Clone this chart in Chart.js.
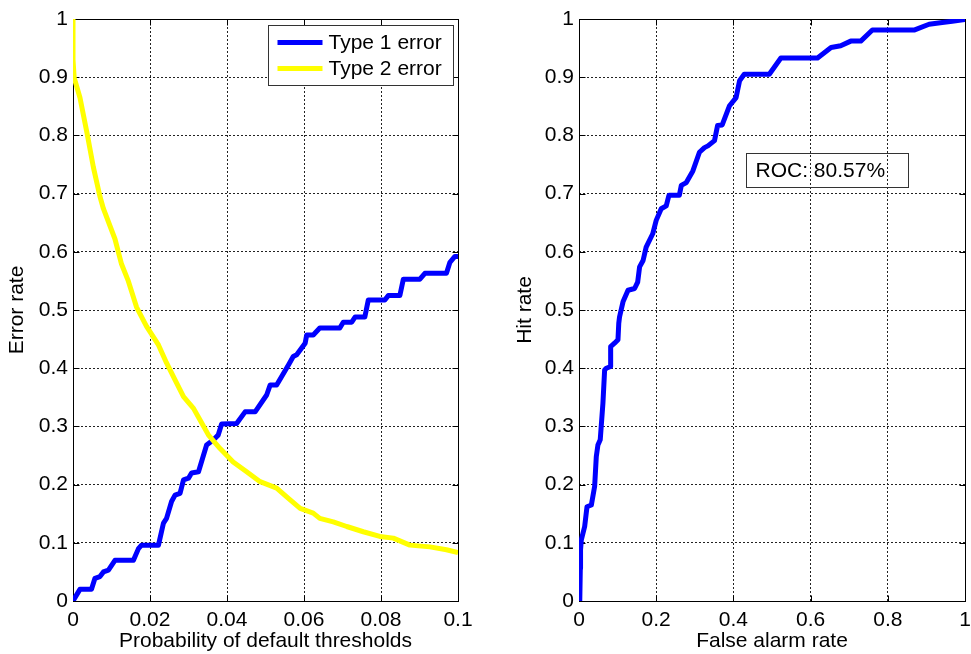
<!DOCTYPE html>
<html>
<head>
<meta charset="utf-8">
<script src="https://cdn.jsdelivr.net/npm/chart.js@4/dist/chart.umd.min.js"></script>
<style>
  html, body { margin: 0; padding: 0; background: #fff; }
  #wrap { position: relative; width: 971px; height: 654px; overflow: hidden; }
  #left { position: absolute; left: 0; top: 0; }
  #right { position: absolute; left: 480px; top: 0; }
</style>
</head>
<body>
<div id="wrap">
  <canvas id="left" width="480" height="654"></canvas>
  <canvas id="right" width="491" height="654"></canvas>
</div>
<script>
// --- data ---
const thresholdTicks = [0, 0.02, 0.04, 0.06, 0.08, 0.1];
const thresholdLabels = ['0', '0.02', '0.04', '0.06', '0.08', '0.1'];
const rateTicks = [0, 0.1, 0.2, 0.3, 0.4, 0.5, 0.6, 0.7, 0.8, 0.9, 1];
const rateLabels = ['0', '0.1', '0.2', '0.3', '0.4', '0.5', '0.6', '0.7', '0.8', '0.9', '1'];
const falseAlarmTicks = [0, 0.2, 0.4, 0.6, 0.8, 1];
const falseAlarmLabels = ['0', '0.2', '0.4', '0.6', '0.8', '1'];

const seriesNames = ['Type 1 error', 'Type 2 error'];

const type1X = [0, 0.0018, 0.0048, 0.0057, 0.007, 0.0079, 0.0092, 0.0109, 0.0157, 0.017, 0.0178, 0.0222,
  0.0235, 0.0243, 0.0256, 0.0265, 0.0278, 0.0287, 0.03, 0.0308, 0.0326, 0.0347, 0.0365, 0.0377, 0.0386,
  0.0425, 0.0447, 0.0473, 0.0503, 0.0512, 0.0529, 0.056, 0.0572, 0.0581, 0.0603, 0.0607, 0.0624, 0.0641,
  0.0693, 0.0702, 0.0724, 0.0733, 0.0758, 0.0767, 0.081, 0.0819, 0.0849, 0.0858, 0.0901, 0.0914, 0.097,
  0.0979, 0.0992, 0.1];
const type1Y = [0, 0.02, 0.02, 0.039, 0.042, 0.05, 0.053, 0.07, 0.07, 0.09, 0.096, 0.096,
  0.134, 0.142, 0.171, 0.182, 0.185, 0.208, 0.211, 0.22, 0.222, 0.268, 0.277, 0.285, 0.304,
  0.305, 0.325, 0.325, 0.354, 0.371, 0.371, 0.406, 0.42, 0.423, 0.443, 0.457, 0.457, 0.469,
  0.469, 0.479, 0.479, 0.488, 0.488, 0.517, 0.517, 0.525, 0.525, 0.553, 0.553, 0.563, 0.563,
  0.582, 0.592, 0.592];

const type2X = [0, 0, 0.0003, 0.0018, 0.0037, 0.0053, 0.007, 0.0079, 0.0109, 0.0126, 0.0143, 0.0165,
  0.0191, 0.0222, 0.0243, 0.0265, 0.0287, 0.0313, 0.033, 0.0352, 0.0382, 0.0416, 0.0451, 0.0486,
  0.0529, 0.0555, 0.059, 0.0624, 0.0641, 0.0676, 0.0711, 0.0754, 0.0797, 0.0832, 0.0875, 0.0927,
  0.097, 0.1];
const type2Y = [1, 0.93, 0.899, 0.865, 0.802, 0.745, 0.695, 0.674, 0.622, 0.579, 0.551, 0.505,
  0.472, 0.44, 0.409, 0.38, 0.351, 0.331, 0.311, 0.285, 0.262, 0.239, 0.222, 0.205,
  0.194, 0.179, 0.159, 0.151, 0.142, 0.136, 0.128, 0.119, 0.111, 0.108, 0.096, 0.093,
  0.088, 0.083];

const rocFalseAlarm = [0.002, 0.0034, 0.004, 0.006, 0.0147, 0.0207, 0.032, 0.0405, 0.0448, 0.049,
  0.055, 0.062, 0.0664, 0.0707, 0.082, 0.082, 0.092, 0.101, 0.103, 0.105, 0.114, 0.127, 0.144,
  0.152, 0.157, 0.166, 0.174, 0.191, 0.2, 0.213, 0.226, 0.233, 0.26, 0.265, 0.278, 0.295, 0.312,
  0.325, 0.334, 0.351, 0.359, 0.371, 0.39, 0.407, 0.416, 0.428, 0.493, 0.523, 0.618, 0.653,
  0.678, 0.704, 0.73, 0.76, 0.868, 0.907, 0.941, 0.967, 1.0];
const rocHit = [0, 0.056, 0.088, 0.105, 0.128, 0.162, 0.165, 0.197, 0.248, 0.268,
  0.277, 0.34, 0.397, 0.4, 0.403, 0.437, 0.443, 0.449, 0.477, 0.488, 0.514, 0.534, 0.537,
  0.548, 0.574, 0.585, 0.608, 0.631, 0.654, 0.674, 0.679, 0.697, 0.697, 0.714, 0.719, 0.739, 0.771,
  0.779, 0.782, 0.791, 0.817, 0.818, 0.851, 0.865, 0.894, 0.905, 0.905, 0.933, 0.933, 0.951,
  0.954, 0.962, 0.962, 0.981, 0.981, 0.991, 0.994, 0.996, 0.999];
const rocLabel = 'ROC: 80.57%';

const FONT = '"Liberation Sans", Arial, sans-serif';
Chart.defaults.font.family = FONT;
Chart.defaults.font.size = 21;
Chart.defaults.color = '#000';

const zip = (xs, ys) => xs.map((x, i) => ({ x, y: ys[i] }));

// box round the plot plus small inward ticks, like matlab
const framePlugin = {
  id: 'frame',
  beforeDatasetsDraw(chart) {
    const { ctx, chartArea: a, scales } = chart;
    const l = Math.round(a.left) + 0.5, r = Math.round(a.right) + 0.5;
    const t = Math.round(a.top) + 0.5, b = Math.round(a.bottom) + 0.5;
    ctx.save();
    ctx.strokeStyle = '#000';
    ctx.lineWidth = 1;
    ctx.strokeRect(l, t, r - l, b - t);
    ctx.beginPath();
    scales.x.ticks.forEach(tk => {
      const px = Math.round(scales.x.getPixelForValue(tk.value)) + 0.5;
      ctx.moveTo(px, b); ctx.lineTo(px, b - 6);
      ctx.moveTo(px, t); ctx.lineTo(px, t + 6);
    });
    scales.y.ticks.forEach(tk => {
      const py = Math.round(scales.y.getPixelForValue(tk.value)) + 0.5;
      ctx.moveTo(l, py); ctx.lineTo(l + 6, py);
      ctx.moveTo(r, py); ctx.lineTo(r - 6, py);
    });
    ctx.stroke();
    ctx.restore();
  }
};

const legendBox = {
  id: 'legendBox',
  afterDatasetsDraw(chart) {
    const ctx = chart.ctx;
    const a = chart.chartArea;
    const x = Math.round(a.right - 190) + 0.5, y = Math.round(a.top + 6) + 0.5, w = 185, h = 60;
    ctx.save();
    ctx.fillStyle = '#fff';
    ctx.strokeStyle = '#333';
    ctx.lineWidth = 1;
    ctx.fillRect(x, y, w, h);
    ctx.strokeRect(x, y, w, h);
    ctx.font = '21px ' + FONT;
    ctx.textBaseline = 'middle';
    ctx.fillStyle = '#000';
    seriesNames.forEach((name, i) => {
      const ds = chart.data.datasets.find(d => d.label === name);
      const ly = y + 17 + i * 26;
      ctx.strokeStyle = ds.borderColor;
      ctx.lineWidth = 5;
      ctx.beginPath();
      ctx.moveTo(x + 9, ly);
      ctx.lineTo(x + 54, ly);
      ctx.stroke();
      ctx.fillText(name, x + 60, ly + 1);
    });
    ctx.restore();
  }
};

const rocBox = {
  id: 'rocBox',
  afterDatasetsDraw(chart) {
    const ctx = chart.ctx;
    const a = chart.chartArea;
    const x = Math.round(a.left + 167) + 0.5, y = Math.round(a.top + 134) + 0.5;
    ctx.save();
    ctx.strokeStyle = '#333';
    ctx.lineWidth = 1;
    ctx.strokeRect(x, y, 162, 34);
    ctx.font = '21px ' + FONT;
    ctx.textBaseline = 'middle';
    ctx.fillStyle = '#000';
    ctx.fillText(rocLabel, x + 9, y + 18);
    ctx.restore();
  }
};

// fixed axis sizes; labels may hang over the plot edges without shrinking it
function fixSize(prop, size) {
  return s => {
    s[prop] = size;
    s.paddingLeft = s.paddingRight = s.paddingTop = s.paddingBottom = 0;
  };
}

function axis(vals, labels, min, max, extra, pad) {
  return Object.assign({
    type: 'linear',
    min, max,
    afterBuildTicks: s => { s.ticks = vals.map(v => ({ value: v })); },
    ticks: { autoSkip: false, maxRotation: 0, padding: pad, callback: (v, i) => labels[i] },
    grid: { color: '#222', lineWidth: 1, drawTicks: false },
    border: { display: false, dash: [2, 2] }
  }, extra);
}

function lineDs(label, xs, ys, color, order) {
  return {
    label, data: zip(xs, ys),
    borderColor: color, backgroundColor: color,
    borderWidth: 5, pointRadius: 0, tension: 0,
    borderJoinStyle: 'round', borderCapStyle: 'butt',
    fill: false, order
  };
}

const common = {
  responsive: false,
  animation: false,
  events: [],
  plugins: { legend: { display: false }, tooltip: { enabled: false } }
};

new Chart(document.getElementById('left'), {
  type: 'line',
  data: {
    datasets: [
      lineDs(seriesNames[0], type1X, type1Y, '#0000ff', 1),
      lineDs(seriesNames[1], type2X, type2Y, '#ffff00', 0)
    ]
  },
  options: Object.assign({}, common, {
    layout: { padding: { top: 19, right: 22, bottom: 0, left: 0 } },
    scales: {
      x: axis(thresholdTicks, thresholdLabels, 0, 0.1, {
        title: { display: true, text: 'Probability of default thresholds', padding: { top: 0, bottom: 0 } },
        afterFit: fixSize('height', 53)
      }, 7),
      y: axis(rateTicks, rateLabels, 0, 1, {
        title: { display: true, text: 'Error rate', padding: { top: 5, bottom: 0 } },
        afterFit: fixSize('width', 73)
      }, 5)
    }
  }),
  plugins: [framePlugin, legendBox]
});

new Chart(document.getElementById('right'), {
  type: 'line',
  data: {
    datasets: [lineDs('ROC', rocFalseAlarm, rocHit, '#0000ff', 0)]
  },
  options: Object.assign({}, common, {
    layout: { padding: { top: 19, right: 6, bottom: 0, left: 0 } },
    scales: {
      x: axis(falseAlarmTicks, falseAlarmLabels, 0, 1, {
        title: { display: true, text: 'False alarm rate', padding: { top: 0, bottom: 0 } },
        afterFit: fixSize('height', 53)
      }, 7),
      y: axis(rateTicks, rateLabels, 0, 1, {
        title: { display: true, text: 'Hit rate', padding: { top: 33, bottom: 0 } },
        afterFit: fixSize('width', 99)
      }, 5)
    }
  }),
  plugins: [framePlugin, rocBox]
});
</script>
</body>
</html>
